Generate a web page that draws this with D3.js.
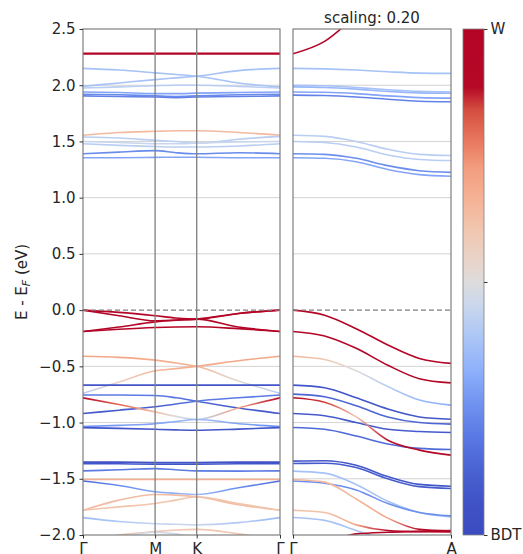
<!DOCTYPE html>
<html>
<head>
<meta charset="utf-8">
<script src="https://d3js.org/d3.v7.min.js"></script>
<style>
  body { margin: 0; background: #fff; overflow: hidden; }
  svg { display: block; }
  text { font-family: "DejaVu Sans", sans-serif; fill: #262626; }
</style>
</head>
<body>
<svg width="523" height="554"></svg>
<script>
// k-path sample points (Γ-M-K-Γ on the left, Γ-A on the right)
var kLeft = [0, 0.5, 1, 1.289, 1.577, 2.155, 2.732];
var kRight = [0, 0.2, 0.4, 0.6, 0.8, 1];
var leftTicks = [0, 1, 1.577, 2.732];
var leftLabels = ["Γ", "M", "K", "Γ"];
var rightTicks = [0, 1];
var rightLabels = ["Γ", "A"];
var yTicks = [-2.0, -1.5, -1.0, -0.5, 0.0, 0.5, 1.0, 1.5, 2.0, 2.5];

// colour weight: 0 = BDT, 1 = W
var cmapPos = [0, 0.063, 0.128, 0.194, 0.261, 0.326, 0.391, 0.458, 0.5, 0.53, 0.597, 0.662, 0.727, 0.78, 0.84, 0.885, 1];
var cmapCol = ["#3b4cc0", "#3f52c6", "#4a62d2", "#5a78e3", "#7093f0", "#8fb0fb", "#abc6f6", "#ccd8ec", "#dddcdc",
               "#e6d6ce", "#f0c8b2", "#f5b396", "#f39c7e", "#e8775e", "#d44e41", "#b50927", "#b40426"];

var leftBands = [
  {e: [2.278, 2.278, 2.278, 2.278, 2.278, 2.278, 2.278], w: 1},
  {e: [2.284, 2.284, 2.284, 2.284, 2.284, 2.284, 2.284], w: 1},
  {e: [2.15, 2.135, 2.11, 2.095, 2.08, 2.02, 1.985], w: 0.38},
  {e: [1.99, 2.02, 2.05, 2.065, 2.08, 2.13, 2.15], w: 0.38},
  {e: [1.975, 1.985, 1.995, 2.0, 2.0, 1.99, 1.975], w: 0.42},
  {e: [1.94, 1.935, 1.925, 1.925, 1.93, 1.935, 1.94], w: 0.3},
  {e: [1.92, 1.915, 1.905, 1.90, 1.905, 1.915, 1.92], w: 0.24},
  {e: [1.905, 1.90, 1.895, 1.89, 1.895, 1.90, 1.905], w: 0.22},
  {e: [1.555, 1.58, 1.59, 1.595, 1.595, 1.58, 1.555], w: 0.64},
  {e: [1.54, 1.53, 1.51, 1.50, 1.485, 1.52, 1.545], w: 0.42},
  {e: [1.50, 1.49, 1.48, 1.48, 1.485, 1.495, 1.50], w: 0.45},
  {e: [1.48, 1.465, 1.455, 1.45, 1.45, 1.46, 1.48], w: 0.42},
  {e: [1.39, 1.405, 1.418, 1.40, 1.39, 1.40, 1.39], w: 0.24},
  {e: [1.355, 1.355, 1.358, 1.36, 1.36, 1.355, 1.355], w: 0.3},
  {e: [0.0, -0.02, -0.05, -0.07, -0.08, -0.03, 0.0], w: 0.97},
  {e: [0.0, -0.05, -0.095, -0.088, -0.08, -0.15, -0.19], w: 0.97},
  {e: [-0.19, -0.15, -0.105, -0.09, -0.08, -0.03, 0.0], w: 0.97},
  {e: [-0.19, -0.17, -0.155, -0.15, -0.148, -0.165, -0.19], w: 0.97},
  {e: [-0.41, -0.42, -0.445, -0.47, -0.50, -0.63, -0.74], w: [0.7, 0.7, 0.68, 0.68, 0.66, 0.52, 0.42]},
  {e: [-0.74, -0.64, -0.54, -0.52, -0.50, -0.45, -0.41], w: [0.42, 0.55, 0.65, 0.67, 0.68, 0.7, 0.7]},
  {e: [-0.667, -0.667, -0.667, -0.667, -0.667, -0.667, -0.667], w: 0.08},
  {e: [-0.755, -0.755, -0.76, -0.78, -0.81, -0.87, -0.92], w: [0.2, 0.2, 0.2, 0.18, 0.15, 0.1, 0.08]},
  {e: [-0.92, -0.89, -0.86, -0.835, -0.81, -0.78, -0.755], w: [0.08, 0.1, 0.12, 0.15, 0.2, 0.2, 0.2]},
  {e: [-0.78, -0.84, -0.905, -0.945, -0.973, -0.87, -0.78], w: [0.92, 0.8, 0.62, 0.5, 0.42, 0.7, 0.92]},
  {e: [-1.035, -1.025, -1.01, -0.99, -0.973, -1.01, -1.035], w: [0.25, 0.28, 0.3, 0.32, 0.36, 0.3, 0.25]},
  {e: [-1.045, -1.052, -1.06, -1.065, -1.068, -1.058, -1.045], w: 0.08},
  {e: [-1.352, -1.352, -1.355, -1.355, -1.355, -1.352, -1.352], w: 0.06},
  {e: [-1.365, -1.367, -1.37, -1.37, -1.37, -1.367, -1.365], w: 0.08},
  {e: [-1.43, -1.42, -1.41, -1.42, -1.43, -1.432, -1.43], w: 0.2},
  {e: [-1.506, -1.506, -1.506, -1.506, -1.506, -1.506, -1.506], w: 0.68},
  {e: [-1.52, -1.56, -1.616, -1.63, -1.64, -1.58, -1.52], w: [0.15, 0.25, 0.3, 0.33, 0.36, 0.25, 0.15]},
  {e: [-1.78, -1.69, -1.64, -1.645, -1.66, -1.73, -1.78], w: 0.63},
  {e: [-1.78, -1.75, -1.72, -1.69, -1.66, -1.72, -1.78], w: 0.61},
  {e: [-1.845, -1.88, -1.90, -1.905, -1.91, -1.89, -1.845], w: [0.36, 0.4, 0.44, 0.45, 0.45, 0.4, 0.36]},
  {e: [-2.05, -2.0, -1.97, -1.955, -1.95, -1.99, -2.05], w: 0.6},
  {e: [-2.1, -2.02, -1.975, -1.99, -2.03, -2.08, -2.1], w: 0.47}
];

var rightBands = [
  {e: [2.28, 2.39, 2.62, 2.85, 3.0, 3.1], w: 1},
  {e: [2.15, 2.145, 2.135, 2.12, 2.108, 2.105], w: 0.38},
  {e: [2.0, 1.995, 1.98, 1.96, 1.945, 1.94], w: 0.38},
  {e: [1.985, 1.98, 1.965, 1.945, 1.932, 1.928], w: 0.35},
  {e: [1.94, 1.937, 1.925, 1.905, 1.89, 1.885], w: 0.3},
  {e: [1.912, 1.908, 1.895, 1.875, 1.858, 1.853], w: 0.22},
  {e: [1.555, 1.545, 1.50, 1.43, 1.385, 1.375], w: 0.42},
  {e: [1.50, 1.49, 1.45, 1.38, 1.34, 1.33], w: 0.42},
  {e: [1.39, 1.385, 1.35, 1.285, 1.24, 1.225], w: 0.25},
  {e: [1.355, 1.35, 1.32, 1.25, 1.205, 1.19], w: 0.3},
  {e: [0.0, -0.045, -0.165, -0.31, -0.43, -0.474], w: 0.97},
  {e: [-0.19, -0.23, -0.34, -0.49, -0.61, -0.647], w: 0.97},
  {e: [-0.41, -0.44, -0.54, -0.68, -0.8, -0.845], w: [0.66, 0.6, 0.5, 0.42, 0.35, 0.32]},
  {e: [-0.667, -0.69, -0.78, -0.88, -0.95, -0.97], w: 0.08},
  {e: [-0.747, -0.77, -0.85, -0.95, -1.0, -1.014], w: 0.14},
  {e: [-0.92, -0.94, -1.0, -1.06, -1.08, -1.088], w: 0.1},
  {e: [-1.044, -1.06, -1.12, -1.19, -1.23, -1.24], w: 0.15},
  {e: [-0.78, -0.82, -0.95, -1.157, -1.245, -1.29], w: [0.92, 0.85, 0.6, 0.88, 0.95, 0.98]},
  {e: [-1.343, -1.34, -1.38, -1.48, -1.55, -1.566], w: 0.08},
  {e: [-1.364, -1.362, -1.40, -1.50, -1.57, -1.586], w: 0.1},
  {e: [-1.432, -1.45, -1.55, -1.70, -1.80, -1.84], w: 0.38},
  {e: [-1.52, -1.54, -1.60, -1.72, -1.80, -1.83], w: 0.25},
  {e: [-1.506, -1.53, -1.68, -1.85, -1.95, -1.965], w: [0.65, 0.65, 0.65, 0.7, 0.9, 1.0]},
  {e: [-1.78, -1.80, -1.91, -1.96, -1.97, -1.972], w: [0.62, 0.62, 0.7, 0.9, 0.98, 1.0]},
  {e: [-1.845, -1.87, -1.96, -2.05, -2.1, -2.1], w: 0.38},
  {e: [-2.1, -2.06, -1.99, -1.975, -1.968, -1.96], w: 1.0}
];

var svg = d3.select("svg");
var defs = svg.append("defs");

var yTop = 29, yBottom = 535;
var xL = d3.scaleLinear().domain([0, 2.732]).range([83, 280]);
var xR = d3.scaleLinear().domain([0, 1]).range([293, 451]);
var y = d3.scaleLinear().domain([-2.0, 2.5]).range([yBottom, yTop]);
var color = d3.scaleLinear().domain(cmapPos).range(cmapCol).clamp(true);
var line = d3.line().curve(d3.curveMonotoneX);

function panel(x, ks, bands, name) {
  var x0 = x.range()[0], x1 = x.range()[1];
  defs.append("clipPath").attr("id", "clip-" + name)
    .append("rect").attr("x", x0).attr("y", yTop).attr("width", x1 - x0).attr("height", yBottom - yTop);
  var g = svg.append("g");

  // grid
  g.selectAll(".grid").data(yTicks.filter(function(d) { return d > -2 && d < 2.5 && d != 0; }))
    .enter().append("line")
    .attr("x1", x0).attr("x2", x1)
    .attr("y1", function(d) { return y(d); }).attr("y2", function(d) { return y(d); })
    .style("stroke", "#d3d3d3").style("stroke-width", 1);

  var bg = g.append("g").attr("clip-path", "url(#clip-" + name + ")");
  bands.forEach(function(b, i) {
    var pts = ks.map(function(k, j) { return [x(k), y(b.e[j])]; });
    var stroke;
    if (Array.isArray(b.w)) {
      var gid = "g-" + name + i;
      var grad = defs.append("linearGradient").attr("id", gid)
        .attr("gradientUnits", "userSpaceOnUse")
        .attr("x1", x0).attr("x2", x1).attr("y1", 0).attr("y2", 0);
      b.w.forEach(function(w, j) {
        grad.append("stop").attr("offset", (x(ks[j]) - x0) / (x1 - x0)).attr("stop-color", color(w));
      });
      stroke = "url(#" + gid + ")";
    } else {
      stroke = color(b.w);
    }
    bg.append("path").attr("d", line(pts))
      .style("fill", "none").style("stroke", stroke).style("stroke-width", 1.6);
  });

  // fermi level
  g.append("line").attr("x1", x0).attr("x2", x1).attr("y1", y(0)).attr("y2", y(0))
    .style("stroke", "#808080").style("stroke-width", 1.2).style("stroke-dasharray", "5,3");

  g.append("rect").attr("x", x0).attr("y", yTop).attr("width", x1 - x0).attr("height", yBottom - yTop)
    .style("fill", "none").style("stroke", "#7f7f7f").style("stroke-width", 1.2);
  return g;
}

var gl = panel(xL, kLeft, leftBands, "left");
var gr = panel(xR, kRight, rightBands, "right");

// high-symmetry vertical lines
gl.selectAll(".sym").data(leftTicks.slice(1, 3)).enter().append("line")
  .attr("x1", function(d) { return xL(d); }).attr("x2", function(d) { return xL(d); })
  .attr("y1", yTop).attr("y2", yBottom)
  .style("stroke", "#7f7f7f").style("stroke-width", 1.3);

// y axis
var yAxis = svg.append("g").attr("transform", "translate(83,0)")
  .call(d3.axisLeft(y).tickValues(yTicks).tickFormat(d3.format(".1f")).tickSize(3.5).tickPadding(4));
yAxis.select(".domain").remove();
yAxis.selectAll("line").style("stroke", "#333");
yAxis.selectAll("text").style("font-size", "15px").style("font-family", "DejaVu Sans").style("fill", "#262626");

// x labels
function xAxis(x, ticks, labels) {
  var a = svg.append("g").attr("transform", "translate(0," + yBottom + ")")
    .call(d3.axisBottom(x).tickValues(ticks).tickFormat(function(d, i) { return labels[i]; }).tickSize(3.5).tickPadding(5));
  a.select(".domain").remove();
  a.selectAll("line").style("stroke", "#333");
  a.selectAll("text").style("font-size", "15px").style("font-family", "DejaVu Sans").style("fill", "#262626");
}
xAxis(xL, leftTicks, leftLabels);
xAxis(xR, rightTicks, rightLabels);

// y label
var yl = svg.append("text").attr("transform", "translate(27,282) rotate(-90)")
  .attr("text-anchor", "middle").style("font-size", "15px");
yl.append("tspan").text("E - E");
yl.append("tspan").attr("dy", 3).style("font-size", "11px").style("font-style", "italic").text("F");
yl.append("tspan").attr("dy", -3).text(" (eV)");

// title
svg.append("text").attr("x", (xR.range()[0] + xR.range()[1]) / 2).attr("y", 23)
  .attr("text-anchor", "middle").style("font-size", "15px").text("scaling: 0.20");

// colorbar
var cb = defs.append("linearGradient").attr("id", "cbar")
  .attr("x1", 0).attr("y1", 1).attr("x2", 0).attr("y2", 0);
cmapPos.forEach(function(p, i) { cb.append("stop").attr("offset", p).attr("stop-color", cmapCol[i]); });
var cy = d3.scaleLinear().domain([0, 1]).range([yBottom, yTop]);
svg.append("rect").attr("x", 463).attr("y", yTop).attr("width", 21).attr("height", yBottom - yTop)
  .style("fill", "url(#cbar)").style("stroke", "#7f7f7f").style("stroke-width", 0.8);
var cAxis = svg.append("g").attr("transform", "translate(484,0)")
  .call(d3.axisRight(cy).tickValues([0, 0.5, 1]).tickFormat(function(d) { return d == 0 ? "BDT" : (d == 1 ? "W" : ""); }).tickSize(3.5).tickPadding(3));
cAxis.select(".domain").remove();
cAxis.selectAll("line").style("stroke", "#333");
cAxis.selectAll("text").style("font-size", "15px").style("font-family", "DejaVu Sans").style("fill", "#262626");
</script>
</body>
</html>
